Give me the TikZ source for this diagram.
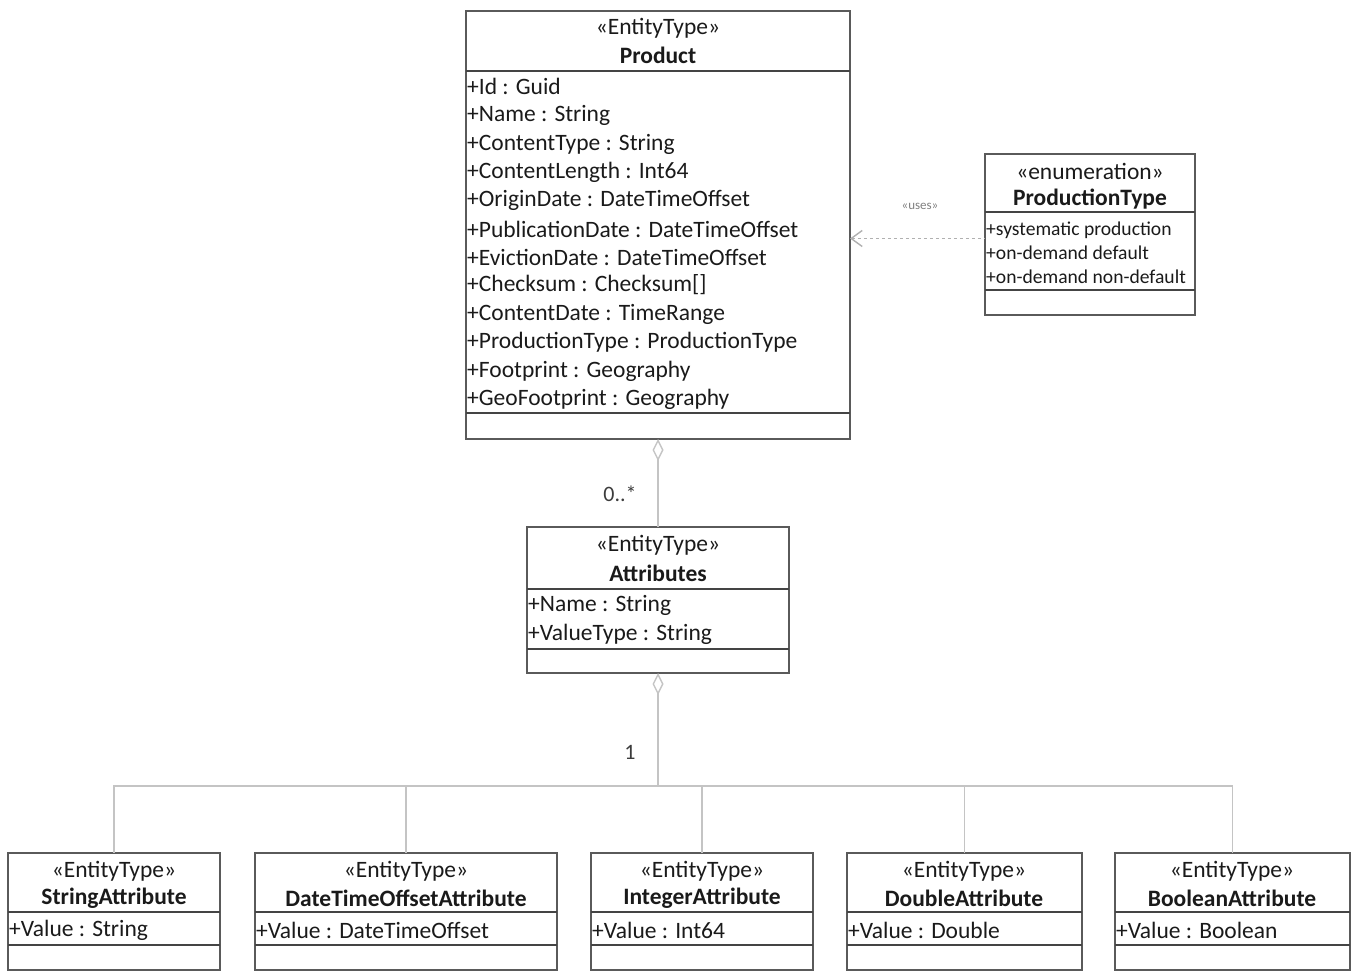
\documentclass[tikz,border=0pt]{standalone}
\usepackage{fontspec}
\setmainfont{Carlito}
\usetikzlibrary{arrows.meta}
\definecolor{boxline}{HTML}{5A5A5A}
\definecolor{divline}{HTML}{444444}
\definecolor{linkline}{HTML}{C4C4C4}
\definecolor{txt}{HTML}{1A1A1A}
\begin{document}
\begin{tikzpicture}[x=1pt, y=-1pt,
    umlbox/.style={draw=boxline, line width=1.4pt, anchor=north west, inner sep=0pt, outer sep=0pt},
    divider/.style={draw=divline, line width=1.8pt},
    stereo/.style={text=txt, inner sep=0pt, font=\fontsize{23.5}{27}\selectfont},
    cname/.style={text=txt, inner sep=0pt, font=\bfseries\fontsize{23.5}{27}\selectfont},
    attr/.style={text=txt, anchor=west, inner sep=0pt, font=\fontsize{23.5}{27}\selectfont},
    smallattr/.style={attr, font=\fontsize{19.6}{23}\selectfont},
    link/.style={draw=linkline, line width=1.4pt},
    mult/.style={text=txt!85, inner sep=0pt, font=\fontsize{22}{25}\selectfont}
  ]
  \useasboundingbox (0,0) rectangle (1355,975);

  % Product
  \node[umlbox, minimum width=384pt, minimum height=428pt] (product) at (466,11) {};
  \draw[divider] (466,71) -- (850,71);
  \draw[divider] (466,413) -- (850,413);
  \node[stereo] (product-st) at (658,28) {«EntityType»};
  \node[cname] (product-nm) at (658,55) {Product};
  \node[attr] (product-a1) at (467,86) {+Id : Guid};
  \node[attr] (product-a2) at (467,115) {+Name : String};
  \node[attr] (product-a3) at (467,144) {+ContentType : String};
  \node[attr] (product-a4) at (467,172) {+ContentLength : Int64};
  \node[attr] (product-a5) at (467,200) {+OriginDate : DateTimeOffset};
  \node[attr] (product-a6) at (467,229) {+PublicationDate : DateTimeOffset};
  \node[attr] (product-a7) at (467,257) {+EvictionDate : DateTimeOffset};
  \node[attr] (product-a8) at (467,285) {+Checksum : Checksum[]};
  \node[attr] (product-a9) at (467,314) {+ContentDate : TimeRange};
  \node[attr] (product-a10) at (467,342) {+ProductionType : ProductionType};
  \node[attr] (product-a11) at (467,371) {+Footprint : Geography};
  \node[attr] (product-a12) at (467,399) {+GeoFootprint : Geography};

  % ProductionType
  \node[umlbox, minimum width=210pt, minimum height=161pt] (prodtype) at (985,154) {};
  \draw[divider] (985,212) -- (1195,212);
  \draw[divider] (985,290) -- (1195,290);
  \node[stereo] (prodtype-st) at (1090,171) {«enumeration»};
  \node[cname] (prodtype-nm) at (1090,199) {ProductionType};
  \node[smallattr] (prodtype-a1) at (986,230) {+systematic production};
  \node[smallattr] (prodtype-a2) at (986,253) {+on-demand default};
  \node[smallattr] (prodtype-a3) at (986,277) {+on-demand non-default};

  % uses
  \draw[link, dashed, draw=linkline!90!black, {Straight Barb[length=11pt, width=16pt]}-]
    ([yshift=-4pt]prodtype.west -| product.east) -- ([yshift=-4pt]prodtype.west);
  \node[mult, text=gray, font=\fontsize{13}{15}\selectfont] (uses-lbl) at (920,206) {«uses»};

  % Attributes
  \node[umlbox, minimum width=262pt, minimum height=146pt] (attributes) at (527,527) {};
  \draw[divider] (527,589) -- (789,589);
  \draw[divider] (527,649) -- (789,649);
  \node[stereo] (attributes-st) at (658,545) {«EntityType»};
  \node[cname] (attributes-nm) at (658,573) {Attributes};
  \node[attr] (attributes-a1) at (528,605) {+Name : String};
  \node[attr] (attributes-a2) at (528,634) {+ValueType : String};

  \draw[link, {Diamond[open, length=22pt, width=11pt]}-] (product.south) -- (attributes.north);
  \node[mult] (mult-many) at (620,494) {0..*};

  % typed attributes
  \node[umlbox, minimum width=212pt, minimum height=117pt] (strattr) at (8,853) {};
  \draw[divider] (8,912) -- (220,912);
  \draw[divider] (8,945) -- (220,945);
  \node[stereo] (strattr-st) at (114,871) {«EntityType»};
  \node[cname] (strattr-nm) at (114,898) {StringAttribute};
  \node[attr] (strattr-a1) at (9,930) {+Value : String};

  \node[umlbox, minimum width=302pt, minimum height=117pt] (dtoattr) at (255,853) {};
  \draw[divider] (255,912) -- (557,912);
  \draw[divider] (255,945) -- (557,945);
  \node[stereo] (dtoattr-st) at (406,871) {«EntityType»};
  \node[cname] (dtoattr-nm) at (406,898) {DateTimeOffsetAttribute};
  \node[attr] (dtoattr-a1) at (256,930) {+Value : DateTimeOffset};

  \node[umlbox, minimum width=222pt, minimum height=117pt] (intattr) at (591,853) {};
  \draw[divider] (591,912) -- (813,912);
  \draw[divider] (591,945) -- (813,945);
  \node[stereo] (intattr-st) at (702,871) {«EntityType»};
  \node[cname] (intattr-nm) at (702,898) {IntegerAttribute};
  \node[attr] (intattr-a1) at (592,930) {+Value : Int64};

  \node[umlbox, minimum width=235pt, minimum height=117pt] (dblattr) at (847,853) {};
  \draw[divider] (847,912) -- (1082,912);
  \draw[divider] (847,945) -- (1082,945);
  \node[stereo] (dblattr-st) at (964,871) {«EntityType»};
  \node[cname] (dblattr-nm) at (964,898) {DoubleAttribute};
  \node[attr] (dblattr-a1) at (848,930) {+Value : Double};

  \node[umlbox, minimum width=235pt, minimum height=117pt] (boolattr) at (1115,853) {};
  \draw[divider] (1115,912) -- (1350,912);
  \draw[divider] (1115,945) -- (1350,945);
  \node[stereo] (boolattr-st) at (1232,871) {«EntityType»};
  \node[cname] (boolattr-nm) at (1232,898) {BooleanAttribute};
  \node[attr] (boolattr-a1) at (1116,930) {+Value : Boolean};

  % tree
  \coordinate (bus) at (658,786);
  \draw[link, {Diamond[open, length=22pt, width=11pt]}-] (attributes.south) -- (bus);
  \node[mult] (mult-one) at (630,752) {1};
  \draw[link] (bus) -| (strattr.north);
  \draw[link] (bus) -| (dtoattr.north);
  \draw[link] (bus) -| (intattr.north);
  \draw[link] (bus) -| (dblattr.north);
  \draw[link] (bus) -| (boolattr.north);
\end{tikzpicture}
\end{document}
